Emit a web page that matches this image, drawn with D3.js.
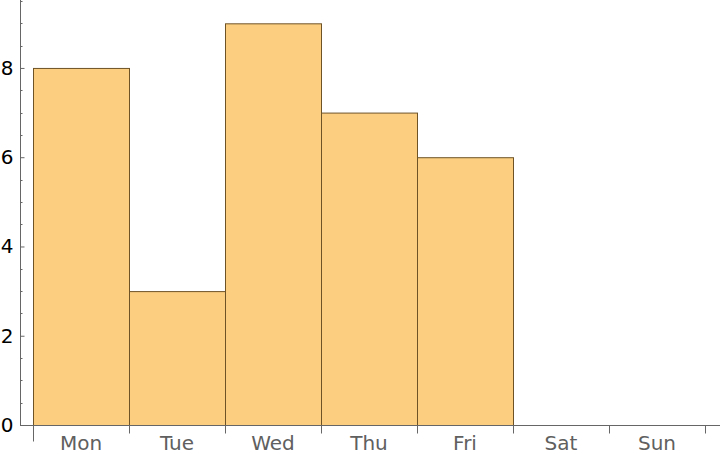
<!DOCTYPE html>
<html><head><meta charset="utf-8">
<script src="https://cdn.jsdelivr.net/npm/d3@7"></script>
<style>body{margin:0;background:#fff}svg{display:block}</style>
</head><body>
<svg id="c" width="720" height="454"></svg>
<script>
const categories = ["Mon","Tue","Wed","Thu","Fri","Sat","Sun"];
const values = [8,3,9,7,6,0,0];
const yTicks = [0,2,4,6,8];

const svg = d3.select("#c");
const x = d3.scaleBand().domain(categories).range([33,705]).padding(0);
const y = d3.scaleLinear().domain([0,9.5]).range([425,1]);
const axisColor = "#666";

// bars
svg.append("g").selectAll("rect").data(categories.map((c,i)=>({c,v:values[i]})).filter(d=>d.v>0))
  .join("rect")
  .attr("x",d=>x(d.c)+0.5).attr("y",d=>y(d.v)+0.5)
  .attr("width",x.bandwidth()).attr("height",d=>y(0)-y(d.v))
  .attr("fill","#FCCF80").attr("stroke","#6e5326").attr("stroke-width",1);

// y axis
const yAxis = d3.axisLeft(y).tickValues(yTicks).tickSize(-4).tickPadding(7);
const gy = svg.append("g").attr("transform","translate(20.5,0)").call(yAxis);
gy.select(".domain").attr("stroke",axisColor).attr("d","M0,0V425");
gy.selectAll(".tick line").attr("stroke",axisColor);
gy.selectAll(".tick text").attr("fill","#000").style("font-family","DejaVu Sans").style("font-size","20px");
const minor = d3.range(0,9.51,0.5).filter(v=>v%2!==0);
gy.selectAll(".minor").data(minor).join("line").attr("class","minor")
  .attr("x1",0).attr("x2",2).attr("y1",d=>Math.round(y(d))+0.5).attr("y2",d=>Math.round(y(d))+0.5)
  .attr("stroke",axisColor);

// x axis
const gx = svg.append("g").attr("transform","translate(0,425.5)");
gx.append("line").attr("x1",20).attr("x2",720).attr("stroke",axisColor);
const bounds = categories.map(c=>x(c)).concat([x(categories[categories.length-1])+x.bandwidth()]);
gx.selectAll(".bt").data(bounds).join("line").attr("class","bt")
  .attr("x1",d=>d+0.5).attr("x2",d=>d+0.5).attr("y1",0).attr("y2",(d,i)=>i===0?16:8)
  .attr("stroke",axisColor);
gx.selectAll(".lab").data(categories).join("text").attr("class","lab")
  .attr("x",d=>x(d)+x.bandwidth()/2).attr("y",24)
  .attr("text-anchor","middle").attr("fill","#606060")
  .style("font-family","DejaVu Sans").style("font-size","20px").text(d=>d);
</script>
</body></html>
